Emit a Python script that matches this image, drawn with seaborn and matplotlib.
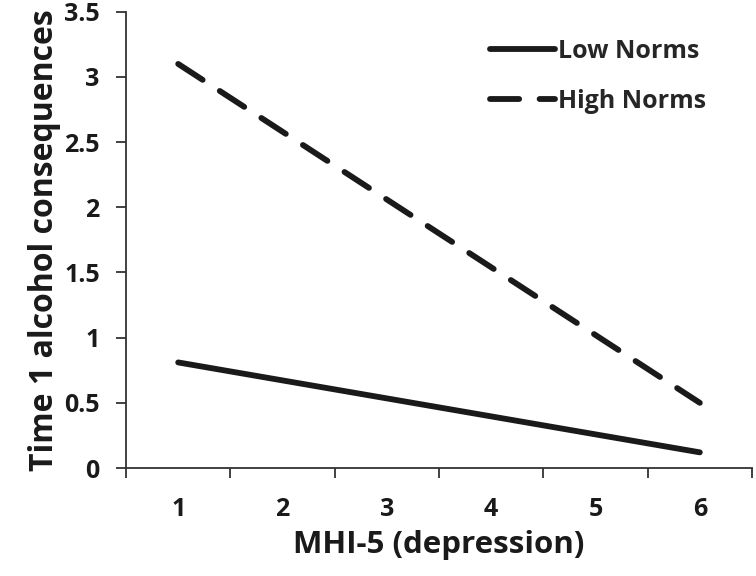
import pandas as pd
import seaborn as sns
import matplotlib.pyplot as plt

# dados
mhi = [1, 6]
low_norms = [0.81, 0.12]
high_norms = [3.1, 0.5]
grupos = ["Low Norms", "High Norms"]

df = pd.DataFrame({
    "MHI": mhi * 2,
    "valor": low_norms + high_norms,
    "grupo": [grupos[0]] * 2 + [grupos[1]] * 2,
})

sns.set_style("ticks")
plt.rcParams['font.family'] = ['Open Sans', 'DejaVu Sans']
plt.rcParams['font.weight'] = 'bold'

fig = plt.figure(figsize=(7.56, 5.76), dpi=100)
ax = fig.add_axes([0.1667, 0.1875, 0.828, 0.792])

sns.lineplot(data=df, x="MHI", y="valor", style="grupo", color="#1a1a1a",
             linewidth=4.2, dashes={"Low Norms": "", "High Norms": (5, 3.5)},
             ax=ax, legend=True)
for ln in ax.lines:
    ln.set_solid_capstyle("round")
    ln.set_dash_capstyle("round")

ax.set_xlim(0.5, 6.5)
ax.set_ylim(0, 3.5)
ax.set_yticks([0, 0.5, 1, 1.5, 2, 2.5, 3, 3.5])
ax.set_yticklabels(["0", "0.5", "1", "1.5", "2", "2.5", "3", "3.5"])
ax.set_xticks(range(1, 7))
ax.set_xticks([0.5 + i for i in range(7)], minor=True)
ax.tick_params(axis="x", which="major", length=0, pad=21, labelsize=18)
ax.tick_params(axis="x", which="minor", length=7, width=1.3, color="#333333", direction="out")
ax.tick_params(axis="y", length=7, width=1.3, color="#333333", labelsize=18, pad=12)
for lab in ax.get_xticklabels() + ax.get_yticklabels():
    lab.set_fontweight("bold")
    lab.set_color("#1a1a1a")

sns.despine(ax=ax)
ax.spines["left"].set_linewidth(1.3)
ax.spines["bottom"].set_linewidth(1.3)
ax.spines["left"].set_color("#333333")
ax.spines["bottom"].set_color("#333333")

ax.set_xlabel("MHI-5 (depression)", fontsize=22.5, fontweight="bold", labelpad=6, color="#1a1a1a")
ax.set_ylabel("Time 1 alcohol consequences", fontsize=23, fontweight="bold", labelpad=2, color="#1a1a1a")

leg = ax.legend(loc="upper right", bbox_to_anchor=(0.962, 0.99), frameon=False,
                handlelength=2.6, handletextpad=0.1, labelspacing=1.0,
                prop={"size": 18, "weight": "bold"})
for h in leg.get_lines():
    h.set_linewidth(4.2)
    h.set_solid_capstyle("round")
    h.set_dash_capstyle("round")

plt.savefig("out.png", dpi=100)
